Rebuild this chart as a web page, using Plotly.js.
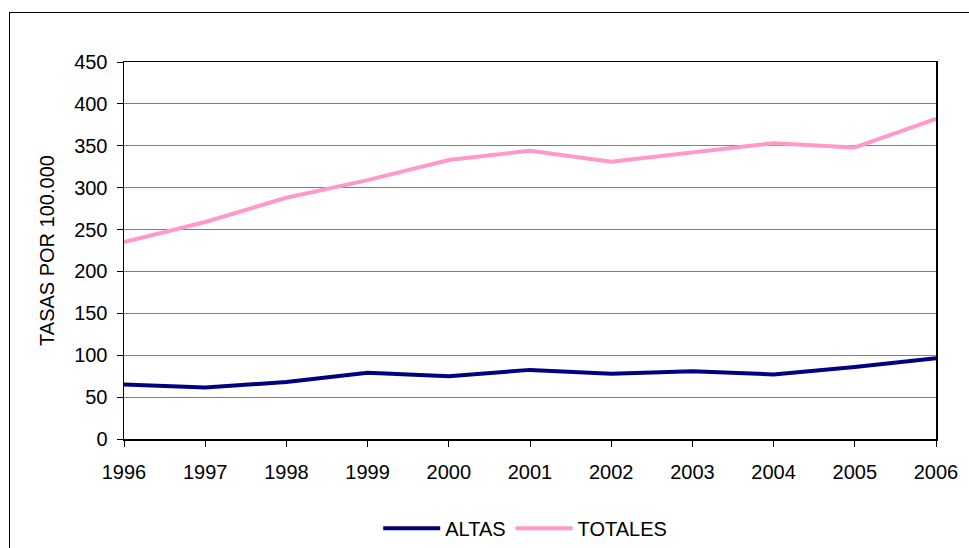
<!DOCTYPE html>
<html>
<head>
<meta charset="utf-8">
<script src="https://cdn.plot.ly/plotly-3.0.1.min.js"></script>
<style>
  html, body { margin: 0; padding: 0; background: #fff; }
  #wrap { position: relative; width: 969px; height: 548px; overflow: hidden; }
  #frame { position: absolute; left: 9px; top: 12px; width: 980px; height: 560px; border: 1px solid #000; box-sizing: border-box; pointer-events: none; }
  #chart { position: absolute; left: 0; top: 0; width: 969px; height: 548px; }
</style>
</head>
<body>
<div id="wrap">
  <div id="chart"></div>
  <div id="frame"></div>
</div>
<script>
const years = ['1996','1997','1998','1999','2000','2001','2002','2003','2004','2005','2006'];
const altas = [65, 61.5, 68, 79, 75, 82.5, 78, 81, 77, 86, 96.5];
const totales = [235, 259, 288, 309, 333, 344, 331, 342, 353, 348, 382];
const yTicks = [0, 50, 100, 150, 200, 250, 300, 350, 400, 450];

const font = {family: 'Liberation Sans, Arial, sans-serif', size: 20, color: '#000'};

const data = [
  {x: years, y: altas, name: 'ALTAS', type: 'scatter', mode: 'lines',
   line: {color: '#000080', width: 4}},
  {x: years, y: totales, name: 'TOTALES', type: 'scatter', mode: 'lines',
   line: {color: '#FF99CC', width: 4}}
];

const layout = {
  width: 969, height: 548,
  margin: {l: 124, r: 33, t: 62, b: 109},
  paper_bgcolor: '#fff', plot_bgcolor: '#fff',
  font: font,
  showlegend: true,
  legend: {orientation: 'h', x: 0.542, xanchor: 'center', xref: 'container',
           y: 0.036, yanchor: 'middle', yref: 'container',
           font: font, itemwidth: 57, tracegroupgap: 0},
  xaxis: {
    type: 'category', range: [0, 10],
    showline: true, linecolor: '#000', linewidth: 1.5, mirror: true,
    ticks: 'outside', ticklen: 6, tickcolor: '#000', tickwidth: 1,
    ticklabelstandoff: 8,
    showgrid: false, zeroline: false, tickfont: font, fixedrange: true,
    automargin: false
  },
  yaxis: {
    range: [0, 450], tickvals: yTicks, ticktext: yTicks.map(String),
    showline: true, linecolor: '#000', linewidth: 1.5, mirror: true,
    ticks: 'outside', ticklen: 6, tickcolor: '#000', tickwidth: 1,
    ticklabelstandoff: 5,
    showgrid: true, gridcolor: '#808080', gridwidth: 1, zeroline: false,
    tickfont: font,
    title: {text: 'TASAS POR 100.000', font: font, standoff: 14},
    automargin: false, fixedrange: true
  }
};

Plotly.newPlot('chart', data, layout, {displayModeBar: false, staticPlot: true});
</script>
</body>
</html>
